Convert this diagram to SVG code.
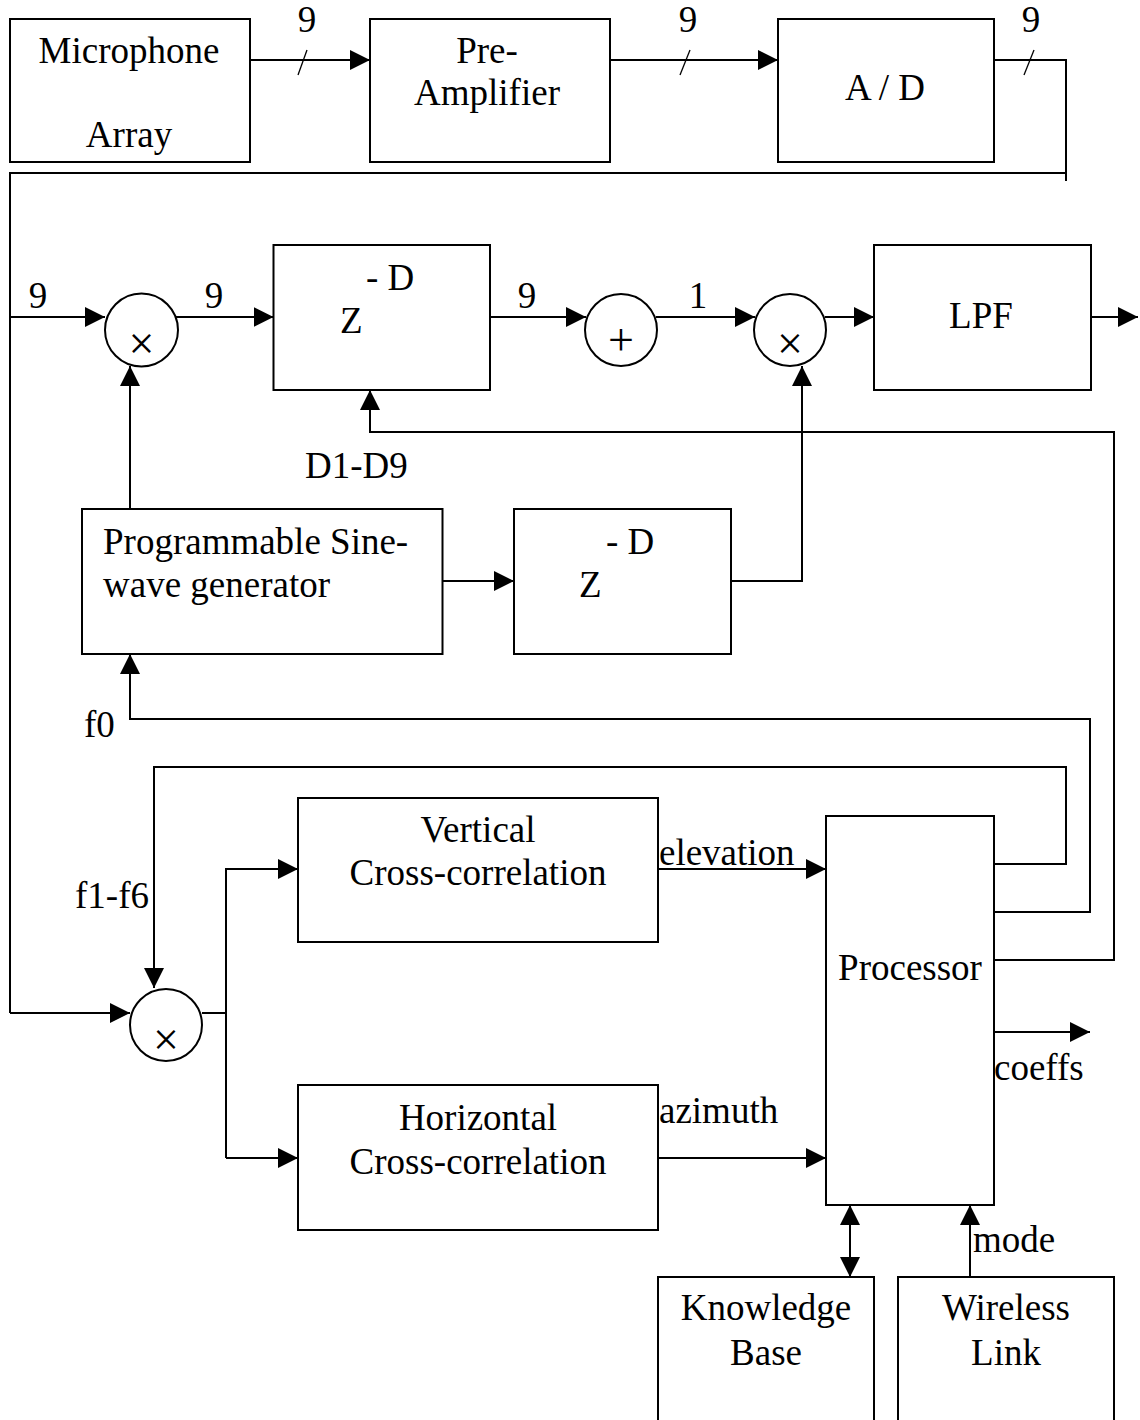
<svg xmlns="http://www.w3.org/2000/svg" width="1140" height="1420" viewBox="0 0 1140 1420">
<style>
.box{fill:#fff;stroke:#000;stroke-width:2}
.open{fill:none;stroke:#000;stroke-width:2}
.ln{fill:none;stroke:#000;stroke-width:2}
.arr{marker-end:url(#ah)}
.sl{stroke:#000;stroke-width:1.3}
text{font-family:"Liberation Serif","Times New Roman",serif;font-size:37px;fill:#000}
.m{text-anchor:middle}
.op{font-size:46px;text-anchor:middle}
</style>
<defs>
<marker id="ah" markerUnits="userSpaceOnUse" markerWidth="20" markerHeight="20" refX="20" refY="10" orient="auto-start-reverse" viewBox="0 0 20 20">
<path d="M0,0 L20,10 L0,20 z" fill="#000"/>
</marker>
</defs>
<rect width="1140" height="1420" fill="#fff"/>

<g id="connectors">
<path class="ln arr" d="M250,60 H370"/>
<path class="ln arr" d="M610,60 H778"/>
<path class="ln" d="M994,60 H1066 V181"/>
<path class="ln" d="M1066,173 H10 V1013"/>
<path class="ln arr" d="M10,1013 H130"/>
<path class="ln arr" d="M10,317 H105"/>
<path class="ln arr" d="M176,317 H273.5"/>
<path class="ln arr" d="M490,317 H586"/>
<path class="ln arr" d="M656,317 H755"/>
<path class="ln arr" d="M825,317 H874"/>
<path class="ln arr" d="M1091,317 H1138"/>
<path class="ln arr" d="M130,509 V366"/>
<path class="ln arr" d="M442,581 H514"/>
<path class="ln arr" d="M731,581 H802 V366"/>
<path class="ln arr" d="M994,960 H1114 V432 H370 V390"/>
<path class="ln arr" d="M994,912 H1090 V719 H130 V654"/>
<path class="ln arr" d="M994,864 H1066 V767 H154 V988"/>
<path class="ln" d="M202,1013 H226"/>
<path class="ln arr" d="M226,1158 V869 H298"/>
<path class="ln arr" d="M226,1158 H298"/>
<path class="ln arr" d="M658,869 H826"/>
<path class="ln arr" d="M658,1158 H826"/>
<path class="ln arr" d="M994,1032 H1090"/>
<path class="ln arr" d="M850,1277 V1205" marker-start="url(#ah)"/>
<path class="ln arr" d="M970,1277 V1205"/>
<line class="sl" x1="307" y1="50" x2="298" y2="75"/>
<line class="sl" x1="690" y1="50" x2="680" y2="75"/>
<line class="sl" x1="1034" y1="50" x2="1024" y2="75"/>
<text x="307" y="32" class="m">9</text>
<text x="688" y="32" class="m">9</text>
<text x="1031" y="32" class="m">9</text>
<text x="38" y="308" class="m">9</text>
<text x="214" y="308" class="m">9</text>
<text x="527" y="308" class="m">9</text>
<text x="698" y="308" class="m">1</text>
<text x="305" y="478">D1-D9</text>
<text x="84" y="737">f0</text>
<text x="75" y="908">f1-f6</text>
<text x="659" y="865">elevation</text>
<text x="659" y="1123">azimuth</text>
<text x="994" y="1080">coeffs</text>
<text x="973" y="1252">mode</text>
</g>

<g id="microphone">
<rect class="box" x="10" y="19" width="240" height="143"/>
<text x="129" y="63" class="m">Microphone</text>
<text x="129" y="147" class="m">Array</text>
</g>
<g id="preamp">
<rect class="box" x="370" y="19" width="240" height="143"/>
<text x="487" y="63" class="m">Pre-</text>
<text x="487" y="105" class="m">Amplifier</text>
</g>
<g id="ad">
<rect class="box" x="778" y="19" width="216" height="143"/>
<text x="885" y="100" class="m">A / D</text>
</g>
<g id="mult1">
<circle class="box" cx="141.5" cy="330" r="36.5"/>
<text x="141.5" y="359" class="op">×</text>
</g>
<g id="delay1">
<rect class="box" x="273.5" y="245" width="216.5" height="145"/>
<text x="340" y="333">Z</text>
<text x="366" y="290">- D</text>
</g>
<g id="sum">
<circle class="box" cx="621" cy="330" r="36"/>
<text x="621" y="355" class="op">+</text>
</g>
<g id="mult2">
<circle class="box" cx="790" cy="330" r="36"/>
<text x="790" y="359" class="op">×</text>
</g>
<g id="lpf">
<rect class="box" x="874" y="245" width="217" height="145"/>
<text x="981" y="328" class="m">LPF</text>
</g>
<g id="sinegen">
<rect class="box" x="82" y="509" width="360.5" height="145"/>
<text x="103" y="554">Programmable Sine-</text>
<text x="103" y="597">wave generator</text>
</g>
<g id="delay2">
<rect class="box" x="514" y="509" width="217" height="145"/>
<text x="579" y="597">Z</text>
<text x="606" y="554">- D</text>
</g>
<g id="mult3">
<circle class="box" cx="166" cy="1025" r="36"/>
<text x="166" y="1055" class="op">×</text>
</g>
<g id="vcorr">
<rect class="box" x="298" y="798" width="360" height="144"/>
<text x="478" y="842" class="m">Vertical</text>
<text x="478" y="885" class="m">Cross-correlation</text>
</g>
<g id="hcorr">
<rect class="box" x="298" y="1085" width="360" height="145"/>
<text x="478" y="1130" class="m">Horizontal</text>
<text x="478" y="1174" class="m">Cross-correlation</text>
</g>
<g id="processor">
<rect class="box" x="826" y="816" width="168" height="389"/>
<text x="910" y="980" class="m">Processor</text>
</g>
<g id="knowledge">
<path class="open" d="M658,1421 V1277 H874 V1421"/>
<text x="766" y="1320" class="m">Knowledge</text>
<text x="766" y="1365" class="m">Base</text>
</g>
<g id="wireless">
<path class="open" d="M898,1421 V1277 H1114 V1421"/>
<text x="1006" y="1320" class="m">Wireless</text>
<text x="1006" y="1365" class="m">Link</text>
</g>
</svg>
